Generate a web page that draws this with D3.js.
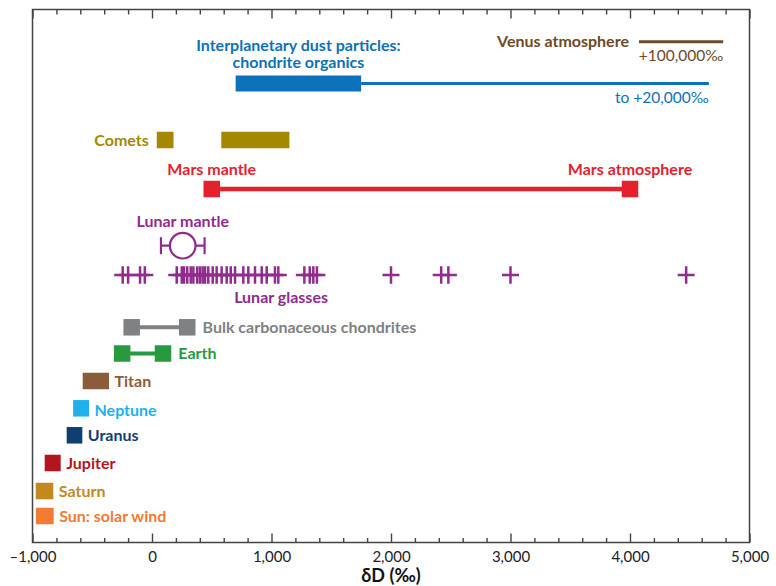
<!DOCTYPE html>
<html><head><meta charset="utf-8">
<script src="https://cdn.jsdelivr.net/npm/d3@7"></script>
<style>
html,body{margin:0;padding:0;background:#fff;}
svg{display:block;font-family:Lato,"Noto Sans",sans-serif;}
</style></head>
<body><svg id="chart" width="776" height="586"></svg>
<script>
// ---------------- DATA ----------------
const rows = ["Venus atmosphere","Interplanetary dust particles","Comets","Mars","Lunar mantle","Lunar glasses",
  "Bulk carbonaceous chondrites","Earth","Titan","Neptune","Uranus","Jupiter","Saturn","Sun: solar wind"];

// ranges drawn as boxes (δD, ‰)
const rangeNames = ["Comets","Comets","Titan","Neptune","Uranus","Jupiter","Saturn","Sun: solar wind"];
const rangeLow   = [40, 580, -580, -660, -714, -898, -973, -971];
const rangeHigh  = [180, 1150, -360, -527, -583, -764, -826, -823];

// two end-members joined by a line
const pairNames = ["Mars","Bulk carbonaceous chondrites","Earth"];
const pairLow   = [500, -170, -250];
const pairHigh  = [4000, 295, 92];

// interplanetary dust particles: core range and tail (continues off scale to +20,000‰)
const idpCore = [700, 1750];
const idpTail = 4660;

// Venus atmosphere (+100,000‰, off scale)
const venusRange = [4075, 4780];

// lunar mantle: low, mean, high
const lunarMantle = [75, 257, 440];

// lunar glasses individual measurements
const lunarGlasses = [-245, -200, -100, -60,
  207, 249, 268, 295, 324, 346, 379, 402, 424, 444, 471, 508, 541, 583, 625, 659, 695,
  764, 806, 862, 918, 960, 1029, 1057,
  1275, 1320, 1350, 1380,
  2000, 2420, 2480, 3000, 4470];

const xTickValues = [-1000, 0, 1000, 2000, 3000, 4000, 5000];
const xTickLabels = ["\u20131,000", "0", "1,000", "2,000", "3,000", "4,000", "5,000"];
const xTitle = "\u03b4D (\u2030)";

// ---------------- STYLE / LAYOUT ----------------
const colors = {
  "Venus atmosphere":"#6d4a28","Interplanetary dust particles":"#0c72ba","Comets":"#a38800",
  "Mars":"#e6212e","Lunar mantle":"#922b8e","Lunar glasses":"#922b8e",
  "Bulk carbonaceous chondrites":"#808184","Earth":"#279a3f","Titan":"#8c5b3b",
  "Neptune":"#1eb1ec","Uranus":"#0f3f70","Jupiter":"#b3141f","Saturn":"#c28a1c","Sun: solar wind":"#f37a33"
};
const rowY = [41.7, 83.5, 140, 189, 245.7, 275, 327.3, 353.5, 381, 408.3, 435.3, 463, 491, 516];
const FS = 16;

const L = 32.5, R = 749.5, T = 9.5, B = 542.5;
const svg = d3.select("#chart");
const x = d3.scaleLinear().domain([-1000, 5000]).range([L, R]);
const y = d3.scaleOrdinal().domain(rows).range(rowY);
const BOX = 16.5;

// frame
svg.append("rect").attr("x", L).attr("y", T).attr("width", R - L).attr("height", B - T)
  .attr("fill", "none").attr("stroke", "#444").attr("stroke-width", 1.5);

// axes
const minor = d3.range(-1000, 5001, 200).filter(v => !xTickValues.includes(v));
function styleAxis(g){ g.select(".domain").remove(); g.selectAll("line").attr("stroke","#444").attr("stroke-width",1.4); }
svg.append("g").attr("transform", `translate(0,${B})`)
  .call(d3.axisBottom(x).tickValues(xTickValues).tickSize(-9).tickPadding(8.5)
    .tickFormat((d, i) => xTickLabels[i]))
  .call(styleAxis)
  .call(g => g.selectAll("text").attr("font-size", 15).attr("fill", "#222").attr("font-family", "Lato"));
svg.append("g").attr("transform", `translate(0,${B})`)
  .call(d3.axisBottom(x).tickValues(minor).tickSize(-4.5).tickFormat("")).call(styleAxis);
svg.append("g").attr("transform", `translate(0,${T})`)
  .call(d3.axisTop(x).tickValues(xTickValues).tickSize(-9).tickFormat("")).call(styleAxis);
svg.append("g").attr("transform", `translate(0,${T})`)
  .call(d3.axisTop(x).tickValues(minor).tickSize(-5).tickFormat("")).call(styleAxis);

svg.append("text").attr("x", x(2000)).attr("y", 581.5).attr("text-anchor", "middle")
  .attr("font-size", 18).attr("font-weight", "bold").attr("fill", "#111").text(xTitle);

// range boxes
svg.append("g").selectAll("rect").data(rangeNames).join("rect")
  .attr("x", (d, i) => x(rangeLow[i])).attr("width", (d, i) => x(rangeHigh[i]) - x(rangeLow[i]))
  .attr("y", d => y(d) - BOX / 2).attr("height", BOX).attr("fill", d => colors[d]);

// paired end-members
const pairG = svg.append("g").selectAll("g").data(pairNames).join("g");
pairG.append("line")
  .attr("x1", (d, i) => x(pairLow[i])).attr("x2", (d, i) => x(pairHigh[i]))
  .attr("y1", d => y(d)).attr("y2", d => y(d))
  .attr("stroke", d => colors[d]).attr("stroke-width", (d, i) => i === 0 ? 4.5 : 4);
pairG.each(function(d, i){
  d3.select(this).selectAll("rect").data([pairLow[i], pairHigh[i]]).join("rect")
    .attr("x", v => x(v) - BOX / 2).attr("y", y(d) - BOX / 2)
    .attr("width", BOX).attr("height", BOX).attr("fill", colors[d]);
});

// IDP
const idp = "Interplanetary dust particles";
svg.append("line").attr("x1", x(idpCore[1])).attr("x2", x(idpTail))
  .attr("y1", y(idp)).attr("y2", y(idp)).attr("stroke", colors[idp]).attr("stroke-width", 2.8);
svg.append("rect").attr("x", x(idpCore[0])).attr("width", x(idpCore[1]) - x(idpCore[0]))
  .attr("y", y(idp) - 8).attr("height", 16).attr("fill", colors[idp]);

// Venus
const ven = "Venus atmosphere";
svg.append("line").attr("x1", x(venusRange[0])).attr("x2", x(venusRange[1]))
  .attr("y1", y(ven)).attr("y2", y(ven)).attr("stroke", colors[ven]).attr("stroke-width", 3);

// Lunar mantle
const lm = "Lunar mantle", lmc = colors[lm];
const lmg = svg.append("g").attr("stroke", lmc).attr("stroke-width", 2.2).attr("fill", "none");
lmg.append("line").attr("x1", x(lunarMantle[0])).attr("x2", x(lunarMantle[2])).attr("y1", y(lm)).attr("y2", y(lm));
[lunarMantle[0], lunarMantle[2]].forEach(v => lmg.append("line").attr("x1", x(v)).attr("x2", x(v))
  .attr("y1", y(lm) - 8.5).attr("y2", y(lm) + 8.5));
lmg.append("circle").attr("cx", x(lunarMantle[1])).attr("cy", y(lm)).attr("r", 12.8).attr("fill", "#fff");

// Lunar glasses crosses
const lg = "Lunar glasses";
svg.append("g").selectAll("path").data(lunarGlasses).join("path")
  .attr("d", v => `M${x(v) - 8.5},${y(lg)}H${x(v) + 8.5}M${x(v)},${y(lg) - 8.7}V${y(lg) + 8.7}`)
  .attr("stroke", colors[lg]).attr("stroke-width", 2.5).attr("fill", "none");

// ---------------- LABELS ----------------
const labels = [];
const bold = 700, norm = 400;
labels.push({t:"Interplanetary dust particles:", x:(x(idpCore[0]) + x(idpCore[1])) / 2, y:45, a:"middle", c:colors[idp], w:bold});
labels.push({t:"chondrite organics", x:(x(idpCore[0]) + x(idpCore[1])) / 2, y:62.5, a:"middle", c:colors[idp], w:bold});
labels.push({t:"to +20,000\u2030", x:x(idpTail), y:97.5, a:"end", c:colors[idp], w:norm});
labels.push({t:"Venus atmosphere", x:x(venusRange[0]) - 10, y:41, a:"end", c:colors[ven], w:bold});
labels.push({t:"+100,000\u2030", x:x(venusRange[1]), y:55.5, a:"end", c:colors[ven], w:norm});
labels.push({t:"Comets", x:x(rangeLow[0]) - 8, y:y("Comets"), a:"end", c:colors["Comets"], w:bold});
labels.push({t:"Mars mantle", x:x(pairLow[0]), y:169.5, a:"middle", c:colors["Mars"], w:bold});
labels.push({t:"Mars atmosphere", x:x(pairHigh[0]), y:169.5, a:"middle", c:colors["Mars"], w:bold});
labels.push({t:"Lunar mantle", x:x(lunarMantle[1]), y:221.7, a:"middle", c:lmc, w:bold});
labels.push({t:"Lunar glasses", x:x(1080), y:297.5, a:"middle", c:colors[lg], w:bold});
pairNames.slice(1).forEach((n, j) => labels.push({t:n, x:x(pairHigh[j + 1]) + BOX / 2 + 7, y:y(n), a:"start", c:colors[n], w:bold}));
["Titan","Neptune","Uranus","Jupiter","Saturn","Sun: solar wind"].forEach(n => {
  const i = rangeNames.indexOf(n);
  labels.push({t:n, x:x(rangeHigh[i]) + 5.5, y:y(n) + (n === "Neptune" ? 1.5 : 0), a:"start", c:colors[n], w:bold});
});
svg.append("g").selectAll("text").data(labels).join("text")
  .attr("x", d => d.x).attr("y", d => d.y).attr("dy", "0.36em")
  .attr("text-anchor", d => d.a).attr("fill", d => d.c).attr("font-weight", d => d.w)
  .attr("font-size", d => d.w === norm ? FS - 0.5 : FS).text(d => d.t);
</script>
</body></html>
